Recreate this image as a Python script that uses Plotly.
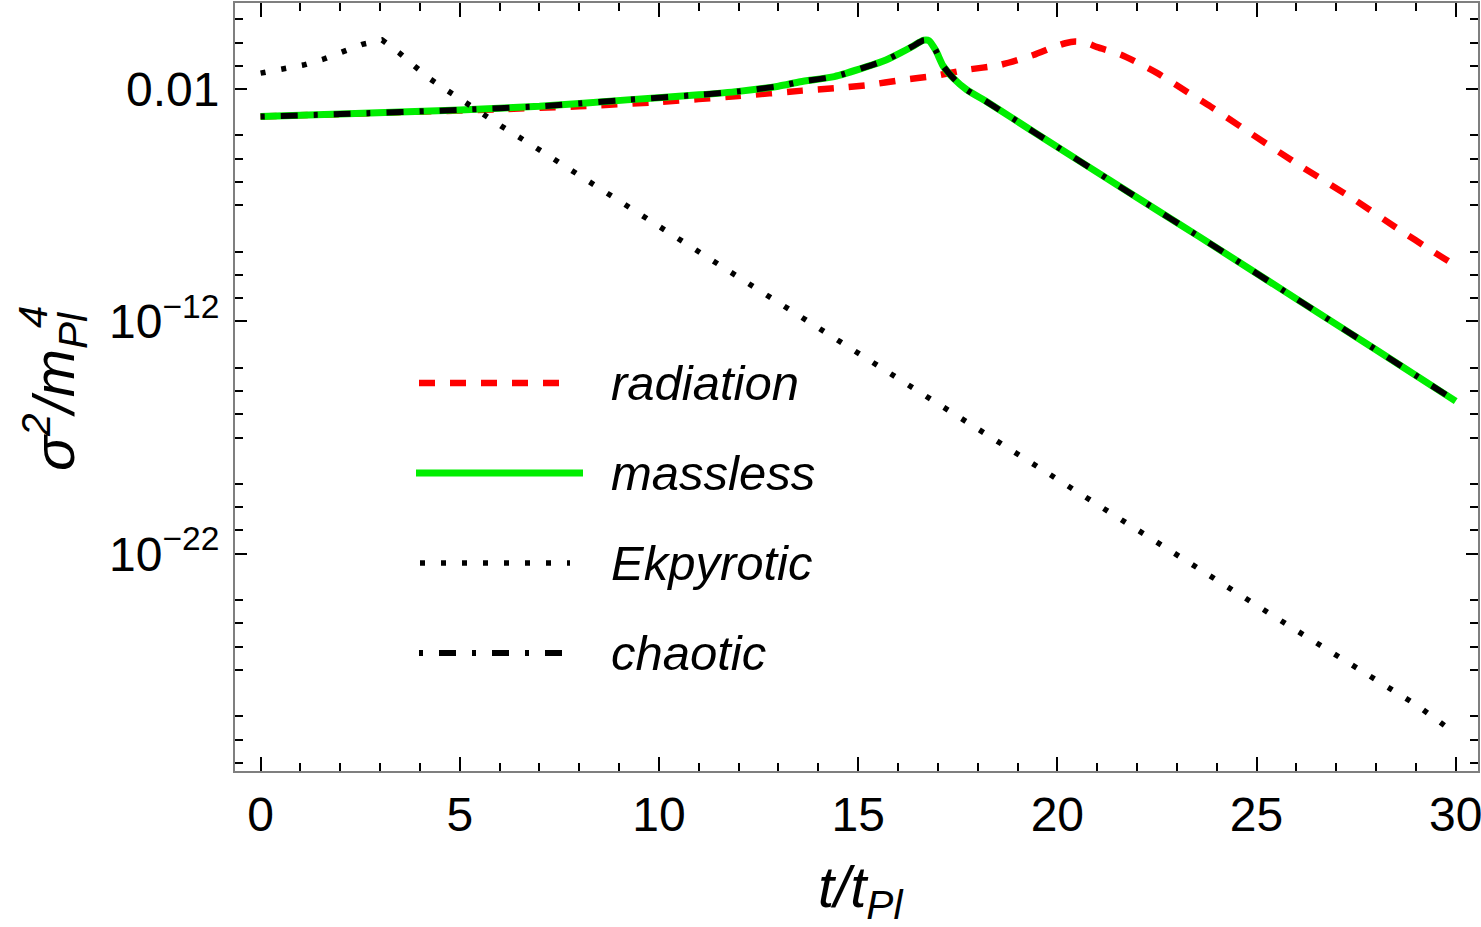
import plotly.graph_objects as go

# ---------------- data ----------------
t_radiation = [0, 2, 4, 6, 8, 10, 12, 13.6, 14.4, 15.25, 16.1, 16.9, 17.7, 18.55, 19.4,
               19.9, 20.2, 20.45, 20.7, 21.0, 21.6, 22.5, 23.25, 23.85, 24.6, 26.0,
               27.4, 28.5, 29.5, 30]
radiation = [6.5e-4, 8.3e-4, 1.05e-3, 1.35e-3, 1.8e-3, 2.75e-3, 5.0e-3, 8.5e-3, 1.07e-2,
             1.48e-2, 2.45e-2, 3.6e-2, 6.6e-2, 0.107, 0.29, 0.63, 0.93, 1.1, 1.0, 0.63,
             0.30, 4.9e-2, 7.6e-3, 1.74e-3, 2.4e-4, 6.3e-6, 2.0e-7, 1.1e-8, 8.5e-10,
             2.5e-10]

t_massless = [0, 2, 5, 7, 9.2, 11, 12, 13, 13.55, 14.4, 15.2, 15.7, 16.05, 16.35, 16.55,
              16.65, 16.78, 16.95, 17.13, 17.4, 17.73, 18.23, 19.4, 22.1, 23.6, 26, 28, 30]
massless = [6.5e-4, 8.3e-4, 1.26e-3, 1.8e-3, 3.4e-3, 5.6e-3, 7.9e-3, 1.32e-2, 2.04e-2,
            3.4e-2, 8.9e-2, 0.178, 0.35, 0.66, 1.05, 1.26, 1.2, 0.45, 0.10, 2.8e-2,
            9.1e-3, 2.8e-3, 1.45e-4, 1.66e-7, 4.0e-9, 9.3e-12, 6.0e-14, 3.7e-16]

t_chaotic = list(t_massless)
chaotic = list(massless)

t_ekpyrotic = [0, 0.55, 1.07, 1.57, 2.07, 2.55, 3.05, 3.48, 3.86, 4.27, 4.71, 5.13, 5.56,
               6.03, 6.91, 7.79, 8.66, 12, 16, 20, 23.67, 26, 29.03, 30]
ekpyrotic = [4.8e-2, 7.1e-2, 0.107, 0.19, 0.38, 0.83, 1.29, 0.36, 9.8e-2, 2.6e-2, 8.1e-3,
             2.7e-3, 8.3e-4, 2.6e-4, 3.0e-5, 3.2e-6, 3.5e-7, 7.9e-11, 3.5e-15, 1.6e-19,
             1.66e-23, 5.0e-26, 3.0e-29, 1.8e-30]

series_names = ["radiation", "massless", "Ekpyrotic", "chaotic"]

x_ticks = [0, 5, 10, 15, 20, 25, 30]
y_major_vals = [1e-2, 1e-12, 1e-22]
y_major_text = ["0.01", "10<sup>\u221212</sup>", "10<sup>\u221222</sup>"]
y_minor_exps = [1, 0, -1, -4, -5, -6, -7, -9, -10, -11, -14, -15, -16, -17, -19, -20,
                -21, -24, -25, -26, -27, -29, -30, -31]
y_minor_vals = [float("1e%d" % e) for e in y_minor_exps]

# ---------------- styles ----------------
FONT = "Liberation Sans, Arial, sans-serif"
styles = {
    "radiation": dict(color="#ff0000", width=6.5, dash="16px,15px"),
    "massless": dict(color="#00ee00", width=7, dash="solid"),
    "Ekpyrotic": dict(color="#000000", width=5.5, dash="5px,16px"),
    "chaotic": dict(color="#000000", width=6, dash="4px,16px,17px,16px"),
}

fig = go.Figure()
fig.add_trace(go.Scatter(x=t_radiation, y=radiation, mode="lines", name="radiation",
                         line=dict(shape="spline", smoothing=0.6, **styles["radiation"]),
                         showlegend=False))
fig.add_trace(go.Scatter(x=t_massless, y=massless, mode="lines", name="massless",
                         line=dict(shape="spline", smoothing=0.6, **styles["massless"]),
                         showlegend=False))
fig.add_trace(go.Scatter(x=t_chaotic, y=chaotic, mode="lines", name="chaotic",
                         line=dict(shape="spline", smoothing=0.6, **styles["chaotic"]),
                         showlegend=False))
fig.add_trace(go.Scatter(x=t_ekpyrotic, y=ekpyrotic, mode="lines", name="Ekpyrotic",
                         line=styles["Ekpyrotic"], showlegend=False))

W, H = 1481, 927
ML, MR, MT, MB = 235, 3, 3, 156
pw, ph = W - ML - MR, H - MT - MB

def px(xp):
    return (xp - ML) / pw

def py(yp):
    return (H - MB - yp) / ph

# hand-made legend (long line samples like the reference)
legend_rows = [("radiation", 383, 419, 569), ("massless", 473, 416, 583),
               ("Ekpyrotic", 563, 420, 570), ("chaotic", 653, 419, 565)]
for name, yl, x0, x1 in legend_rows:
    st = styles[name]
    fig.add_shape(type="line", xref="paper", yref="paper", x0=px(x0), x1=px(x1),
                  y0=py(yl), y1=py(yl),
                  line=dict(color=st["color"], width=st["width"], dash=st["dash"]))
    fig.add_annotation(xref="paper", yref="paper", x=px(609), y=py(yl), xanchor="left",
                       yanchor="middle", text="<i>%s</i>" % name, showarrow=False,
                       font=dict(family=FONT, size=49, color="black"))

# axis titles
fig.add_annotation(xref="paper", yref="paper", x=px(860), y=py(891), xanchor="center",
                   yanchor="middle", showarrow=False,
                   text="<i>t/t<sub>Pl</sub></i>",
                   font=dict(family=FONT, size=58, color="black"))
fig.add_annotation(xref="paper", yref="paper", x=px(54), y=py(392), xanchor="center",
                   yanchor="middle", showarrow=False, textangle=-90,
                   text="<i>\u03c3<sup>2</sup>/m<sub>Pl</sub></i>",
                   font=dict(family=FONT, size=58, color="black"))
fig.add_annotation(xref="paper", yref="paper", x=px(33), y=py(317), xanchor="center",
                   yanchor="middle", showarrow=False, textangle=-90,
                   text="<i>4</i>",
                   font=dict(family=FONT, size=40, color="black"))

axis_common = dict(showgrid=False, zeroline=False, showline=True, linecolor="#7f7f7f",
                   linewidth=2, mirror="ticks", ticks="inside", tickcolor="black",
                   tickwidth=2, ticklabeloverflow="allow",
                   tickfont=dict(family=FONT, size=48, color="black"))

fig.update_xaxes(range=[-0.643, 30.56], tickmode="array", tickvals=x_ticks, ticklen=14,
                 minor=dict(dtick=1, tick0=0, ticks="inside", ticklen=8, tickwidth=2,
                            tickcolor="black", showgrid=False),
                 **axis_common)
fig.update_yaxes(type="log", range=[-31.35, 1.70], tickmode="array", tickvals=y_major_vals,
                 ticktext=y_major_text, ticklen=12, ticklabelstandoff=4,
                 minor=dict(tickmode="array", tickvals=y_minor_vals, ticks="inside",
                            ticklen=8, tickwidth=2, tickcolor="black", showgrid=False),
                 **axis_common)

fig.update_layout(width=W, height=H, margin=dict(l=ML, r=MR, t=MT, b=MB, autoexpand=False),
                  plot_bgcolor="white", paper_bgcolor="white", showlegend=False)

fig.write_html("out.html")
